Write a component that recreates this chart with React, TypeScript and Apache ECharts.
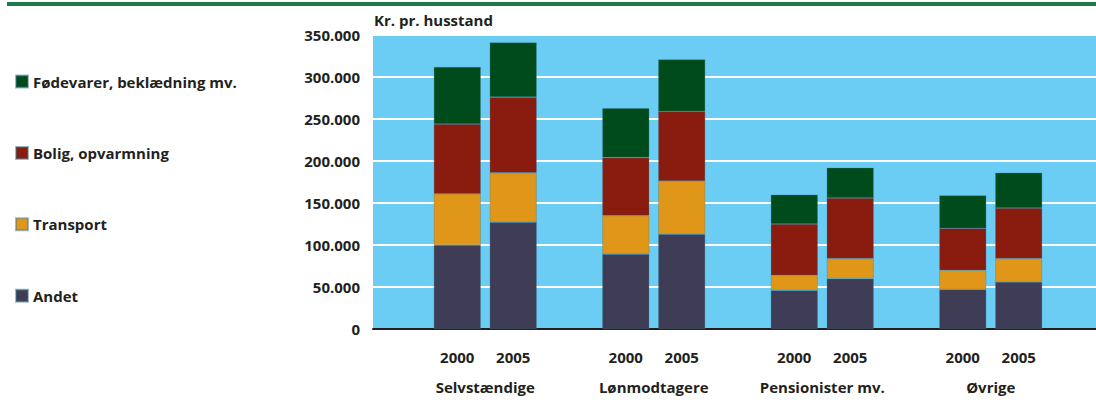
import React, { useEffect, useRef } from "react";
import * as echarts from "echarts";

const categories = ["Selvstændige", "Lønmodtagere", "Pensionister mv.", "Øvrige"];
const years = ["2000", "2005"];
const seriesNames = ["Fødevarer, beklædning mv.", "Bolig, opvarmning", "Transport", "Andet"];
const colors: Record<string, string> = {
  "Andet": "#3f3d55",
  "Transport": "#e09618",
  "Bolig, opvarmning": "#8a1b0f",
  "Fødevarer, beklædning mv.": "#004b1c",
};
// values in kr. per household, per category
const andet2000 = [100000, 89000, 46000, 47000];
const andet2005 = [127000, 113000, 60000, 56000];
const transport2000 = [61000, 46000, 18000, 23000];
const transport2005 = [59000, 63000, 24000, 28000];
const bolig2000 = [83000, 69000, 61000, 50000];
const bolig2005 = [90000, 83000, 72000, 60000];
const foede2000 = [68000, 59000, 35000, 39000];
const foede2005 = [65000, 62000, 36000, 42000];
const yTicks = [0, 50000, 100000, 150000, 200000, 250000, 300000, 350000];

const FONT = "'Open Sans', sans-serif";
const TXT = "#231f20";

export default function App() {
  const ref = useRef<HTMLDivElement>(null);
  useEffect(() => {
    const chart = echarts.init(ref.current!, null, { renderer: "svg" });
    const stackData: { name: string; year: string; data: number[] }[] = [
      { name: "Andet", year: "2000", data: andet2000 },
      { name: "Transport", year: "2000", data: transport2000 },
      { name: "Bolig, opvarmning", year: "2000", data: bolig2000 },
      { name: "Fødevarer, beklædning mv.", year: "2000", data: foede2000 },
      { name: "Andet", year: "2005", data: andet2005 },
      { name: "Transport", year: "2005", data: transport2005 },
      { name: "Bolig, opvarmning", year: "2005", data: bolig2005 },
      { name: "Fødevarer, beklædning mv.", year: "2005", data: foede2005 },
    ];
    const fmt = (v: number) =>
      v === 0 ? "0" : String(v).replace(/\B(?=(\d{3})+(?!\d))/g, ".");
    chart.setOption({
      animation: false,
      textStyle: { fontFamily: FONT },
      title: {
        text: "Kr. pr. husstand",
        left: 374,
        top: 12,
        padding: 0,
        textStyle: { fontFamily: FONT, fontSize: 15, fontWeight: "bold", color: TXT },
      },
      graphic: [
        {
          type: "rect",
          shape: { x: 7, y: 2, width: 1089, height: 4 },
          style: { fill: "#1f7a4b" },
          silent: true,
        },
      ],
      legend: {
        orient: "vertical",
        left: 10,
        top: 69,
        itemWidth: 12,
        itemHeight: 12,
        itemGap: 56.4,
        icon: "rect",
        data: seriesNames,
        selectedMode: false,
        textStyle: { fontFamily: FONT, fontSize: 15, fontWeight: "bold", color: TXT },
      },
      grid: [
        { left: 373, right: 0, top: 35, bottom: 81, backgroundColor: "#6bcdf4", show: true, borderWidth: 0 },
        { left: 401, right: 21, top: 35, bottom: 81 },
      ],
      xAxis: [
        {
          type: "category",
          gridIndex: 0,
          data: ["x"],
          axisLine: { show: true, lineStyle: { color: "#231f20", width: 2 } },
          axisTick: { show: false },
          axisLabel: { show: false },
        },
        {
          type: "category",
          gridIndex: 1,
          data: categories,
          axisLine: { show: false },
          axisTick: { show: false },
          axisLabel: {
            margin: 13,
            formatter: (v: string) => `{y|${years[0]}}{y|${years[1]}}\n{c|${v}}`,
            rich: {
              y: { width: 56, align: "center", fontFamily: FONT, fontSize: 15, fontWeight: "bold", color: TXT, lineHeight: 30 },
              c: { fontFamily: FONT, fontSize: 15, fontWeight: "bold", color: TXT, lineHeight: 30, align: "center" },
            },
          },
        },
      ],
      yAxis: [
        {
          type: "value",
          gridIndex: 0,
          min: 0,
          max: 350000,
          interval: 50000,
          axisLine: { show: false },
          axisTick: { show: false },
          splitLine: { show: true, lineStyle: { color: "#ffffff", width: 2 } },
          axisLabel: {
            margin: 13,
            formatter: (v: number) => (yTicks.includes(v) ? fmt(v) : ""),
            fontFamily: FONT,
            fontSize: 15,
            fontWeight: "bold",
            color: TXT,
          },
        },
        {
          type: "value",
          gridIndex: 1,
          min: 0,
          max: 350000,
          interval: 50000,
          show: false,
          splitLine: { show: false },
        },
      ],
      series: stackData.map((s) => ({
        type: "bar",
        name: s.name,
        xAxisIndex: 1,
        yAxisIndex: 1,
        stack: s.year,
        barWidth: 47,
        barGap: "19%",
        data: s.data,
        itemStyle: { color: colors[s.name], borderColor: "rgba(60,120,140,0.5)", borderWidth: 0.6 },
      })),
    });
    return () => chart.dispose();
  }, []);
  return (
    <div
      ref={ref}
      style={{ position: "fixed", left: 0, top: 0, width: 1096, height: 410, background: "#fff" }}
    />
  );
}
